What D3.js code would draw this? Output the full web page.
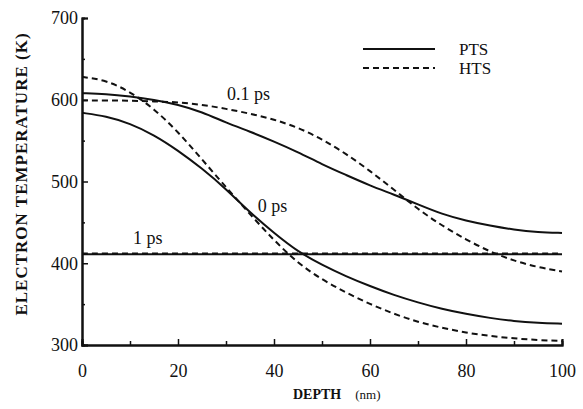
<!DOCTYPE html>
<html lang="en">
<head>
    <meta charset="UTF-8">
    <title>Electron temperature vs depth</title>
    <script src="https://d3js.org/d3.v7.min.js"></script>
    <style>
        body { margin: 0; background: white; }
        svg { display: block; }
        .tick text { font-family: "Liberation Serif", serif; font-size: 18px; fill: #111; }
        .lbl { font-family: "Liberation Serif", serif; fill: #111; }
    </style>
</head>
<body>
    <div id="chart"></div>
    <script>
        // depth (nm) sample points shared by all curves
        const depth = [0, 5, 10, 15, 20, 25, 30, 35, 40, 45, 50, 55, 60, 65, 70, 75, 80, 85, 90, 95, 100];

        // electron temperature (K)
        const pts0  = [584, 580, 571, 557, 538, 516, 491, 462, 437, 414, 398, 384, 372, 361, 352, 344, 338, 333, 329, 327, 326];
        const hts0  = [628, 624, 610, 589, 561, 527, 493, 460, 428, 400, 380, 364, 350, 338, 328, 321, 315, 311, 308, 306, 305];
        const pts01 = [608, 607, 604, 600, 594, 585, 572, 561, 549, 536, 521, 508, 495, 484, 472, 460, 452, 446, 441, 438, 437];
        const hts01 = [599, 599, 599, 598, 597, 594, 589, 583, 576, 566, 552, 534, 513, 490, 466, 446, 429, 414, 403, 395, 390];
        const pts1  = [411, 411, 411, 411, 411, 411, 411, 411, 411, 411, 411, 411, 411, 411, 411, 411, 411, 411, 411, 411, 411];
        const hts1  = [412, 412, 412, 412, 412, 412, 412, 412, 412, 412, 412, 412, 412, 412, 412, 412, 412, 412, 412, 412, 412];

        const xTicks = [0, 20, 40, 60, 80, 100];
        const xMinor = [10, 30, 50, 70, 90];
        const yTicks = [300, 400, 500, 600, 700];
        const yMinor = [350, 450, 550, 650];

        const curveLabels = [
            {text: "0.1 ps", x: 30.2, y: 600},
            {text: "0 ps", x: 36.6, y: 463},
            {text: "1 ps", x: 10.6, y: 423}
        ];

        const width = 583, height = 409;

        const svg = d3.select("#chart").append("svg")
            .attr("width", width)
            .attr("height", height);

        const x = d3.scaleLinear().domain([0, 100]).range([82, 562]);
        const y = d3.scaleLinear().domain([300, 700]).range([345, 18]);

        // axes, ticks pointing inward
        svg.append("g")
            .attr("transform", `translate(0,${y(300)})`)
            .call(d3.axisBottom(x).tickValues(xTicks).tickSize(-6).tickPadding(19).tickFormat(d3.format("d")));
        svg.append("g")
            .attr("transform", `translate(0,${y(300)})`)
            .call(d3.axisBottom(x).tickValues(xMinor).tickSize(-4).tickFormat(""));

        svg.append("g")
            .attr("transform", `translate(${x(0)},0)`)
            .call(d3.axisLeft(y).tickValues(yTicks).tickSize(-6).tickPadding(4).tickFormat(d3.format("d")));
        svg.append("g")
            .attr("transform", `translate(${x(0)},0)`)
            .call(d3.axisLeft(y).tickValues(yMinor).tickSize(-3).tickFormat(""));

        svg.selectAll(".domain").attr("stroke", "#111").attr("stroke-width", 2);
        svg.selectAll(".tick line").attr("stroke", "#111").attr("stroke-width", 1.5);

        const line = d3.line()
            .x((d, i) => x(depth[i]))
            .y(d => y(d))
            .curve(d3.curveBasis);

        const series = [
            {vals: pts1, dashed: false, w: 2.2},
            {vals: hts1, dashed: true, w: 2},
            {vals: pts0, dashed: false, w: 2},
            {vals: hts0, dashed: true, w: 2},
            {vals: pts01, dashed: false, w: 2},
            {vals: hts01, dashed: true, w: 2}
        ];

        svg.selectAll("path.curve")
            .data(series)
            .enter()
            .append("path")
            .attr("class", "curve")
            .attr("d", d => line(d.vals))
            .attr("fill", "none")
            .attr("stroke", "#111")
            .attr("stroke-width", d => d.w)
            .attr("stroke-dasharray", d => d.dashed ? "6,4" : null);

        // curve labels
        svg.selectAll("text.curveLbl")
            .data(curveLabels)
            .enter()
            .append("text")
            .attr("class", "lbl curveLbl")
            .attr("x", d => x(d.x))
            .attr("y", d => y(d.y))
            .style("font-size", "18px")
            .text(d => d.text);

        // legend
        const legend = [{name: "PTS", dashed: false, yy: 49}, {name: "HTS", dashed: true, yy: 68}];
        const lg = svg.selectAll("g.legend").data(legend).enter().append("g");
        lg.append("line")
            .attr("x1", 363).attr("x2", 435)
            .attr("y1", d => d.yy).attr("y2", d => d.yy)
            .attr("stroke", "#111").attr("stroke-width", 2.2)
            .attr("stroke-dasharray", d => d.dashed ? "6,4" : null);
        lg.append("text")
            .attr("class", "lbl")
            .attr("x", 459)
            .attr("y", d => d.yy + 6)
            .style("font-size", "17px")
            .text(d => d.name);

        // axis titles
        svg.append("text")
            .attr("class", "lbl")
            .attr("transform", `translate(27,${174}) rotate(-90)`)
            .attr("text-anchor", "middle")
            .style("font-size", "17px")
            .style("letter-spacing", "1px")
            .style("font-weight", "bold")
            .text("ELECTRON TEMPERATURE (K)");

        const xt = svg.append("text")
            .attr("class", "lbl")
            .attr("x", 293)
            .attr("y", 399);
        xt.append("tspan").style("font-size", "14px").style("font-weight", "bold").text("DEPTH");
        xt.append("tspan").attr("dx", 14).style("font-size", "13px").text("(nm)");
    </script>
</body>
</html>
